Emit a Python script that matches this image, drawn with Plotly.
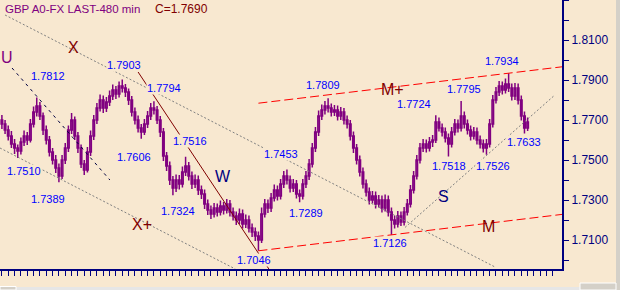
import plotly.graph_objects as go

# ---------------- data (GBP 480-min bars) ----------------
opens = [1.7700, 1.7680, 1.7650, 1.7620, 1.7580, 1.7560, 1.7545, 1.7590, 1.7620, 1.7600,
         1.7680, 1.7740, 1.7770, 1.7720, 1.7650, 1.7600, 1.7540, 1.7500, 1.7460, 1.7420,
         1.7500, 1.7560, 1.7650, 1.7700, 1.7620, 1.7560, 1.7480, 1.7450, 1.7540, 1.7620,
         1.7700, 1.7760, 1.7800, 1.7760, 1.7790, 1.7820, 1.7850, 1.7830, 1.7870, 1.7860,
         1.7840, 1.7800, 1.7740, 1.7700, 1.7660, 1.7640, 1.7680, 1.7720, 1.7760, 1.7750,
         1.7700, 1.7640, 1.7520, 1.7470, 1.7400, 1.7360, 1.7400, 1.7380, 1.7440, 1.7470,
         1.7420, 1.7380, 1.7400, 1.7350, 1.7330, 1.7280, 1.7250, 1.7230, 1.7260, 1.7240,
         1.7270, 1.7250, 1.7280, 1.7240, 1.7220, 1.7200, 1.7230, 1.7180, 1.7200, 1.7160,
         1.7140, 1.7120, 1.7100, 1.7230, 1.7280, 1.7260, 1.7310, 1.7350, 1.7320, 1.7380,
         1.7420, 1.7400, 1.7360, 1.7380, 1.7330, 1.7320, 1.7380, 1.7420, 1.7480, 1.7560,
         1.7640, 1.7720, 1.7750, 1.7770, 1.7760, 1.7740, 1.7750, 1.7720, 1.7740, 1.7700,
         1.7680, 1.7620, 1.7560, 1.7500, 1.7440, 1.7380, 1.7340, 1.7300, 1.7320, 1.7280,
         1.7300, 1.7260, 1.7300, 1.7240, 1.7200, 1.7180, 1.7220, 1.7190, 1.7240, 1.7280,
         1.7350, 1.7420, 1.7500, 1.7560, 1.7580, 1.7560, 1.7590, 1.7600, 1.7690, 1.7660,
         1.7640, 1.7610, 1.7580, 1.7640, 1.7680, 1.7660, 1.7720, 1.7680, 1.7650, 1.7620,
         1.7640, 1.7600, 1.7580, 1.7560, 1.7580, 1.7680, 1.7800, 1.7840, 1.7870, 1.7850,
         1.7880, 1.7860, 1.7820, 1.7860, 1.7800, 1.7720, 1.7660]
highs = [1.7725, 1.7700, 1.7672, 1.7645, 1.7605, 1.7578, 1.7612, 1.7648, 1.7640, 1.7705,
         1.7768, 1.7812, 1.7790, 1.7738, 1.7672, 1.7620, 1.7560, 1.7525, 1.7482, 1.7525,
         1.7585, 1.7672, 1.7735, 1.7718, 1.7640, 1.7578, 1.7500, 1.7565, 1.7648, 1.7725,
         1.7785, 1.7828, 1.7822, 1.7815, 1.7848, 1.7878, 1.7870, 1.7892, 1.7903, 1.7880,
         1.7858, 1.7820, 1.7762, 1.7722, 1.7680, 1.7705, 1.7745, 1.7785, 1.7794, 1.7770,
         1.7720, 1.7660, 1.7540, 1.7492, 1.7420, 1.7428, 1.7425, 1.7468, 1.7516, 1.7490,
         1.7442, 1.7428, 1.7422, 1.7372, 1.7352, 1.7302, 1.7272, 1.7285, 1.7282, 1.7298,
         1.7290, 1.7305, 1.7300, 1.7262, 1.7242, 1.7258, 1.7252, 1.7228, 1.7222, 1.7182,
         1.7162, 1.7142, 1.7262, 1.7305, 1.7302, 1.7335, 1.7378, 1.7372, 1.7405, 1.7445,
         1.7453, 1.7422, 1.7405, 1.7400, 1.7352, 1.7405, 1.7445, 1.7505, 1.7585, 1.7665,
         1.7748, 1.7778, 1.7795, 1.7809, 1.7782, 1.7775, 1.7772, 1.7765, 1.7760, 1.7722,
         1.7700, 1.7642, 1.7580, 1.7522, 1.7462, 1.7402, 1.7362, 1.7345, 1.7342, 1.7325,
         1.7322, 1.7328, 1.7322, 1.7262, 1.7222, 1.7245, 1.7242, 1.7265, 1.7305, 1.7375,
         1.7445, 1.7525, 1.7585, 1.7605, 1.7602, 1.7615, 1.7625, 1.7724, 1.7712, 1.7682,
         1.7662, 1.7632, 1.7665, 1.7705, 1.7702, 1.7795, 1.7742, 1.7702, 1.7672, 1.7665,
         1.7662, 1.7622, 1.7602, 1.7605, 1.7705, 1.7825, 1.7865, 1.7895, 1.7892, 1.7908,
         1.7934, 1.7882, 1.7885, 1.7882, 1.7822, 1.7742, 1.7712]
lows = [1.7655, 1.7630, 1.7598, 1.7560, 1.7530, 1.7510, 1.7528, 1.7570, 1.7575, 1.7588,
        1.7662, 1.7718, 1.7700, 1.7625, 1.7578, 1.7518, 1.7478, 1.7435, 1.7389, 1.7405,
        1.7480, 1.7540, 1.7630, 1.7600, 1.7535, 1.7460, 1.7425, 1.7438, 1.7520, 1.7600,
        1.7680, 1.7742, 1.7735, 1.7740, 1.7770, 1.7800, 1.7805, 1.7812, 1.7838, 1.7815,
        1.7775, 1.7718, 1.7678, 1.7638, 1.7606, 1.7625, 1.7660, 1.7700, 1.7728, 1.7680,
        1.7615, 1.7495, 1.7445, 1.7375, 1.7324, 1.7340, 1.7352, 1.7362, 1.7420, 1.7398,
        1.7355, 1.7360, 1.7325, 1.7305, 1.7255, 1.7225, 1.7205, 1.7212, 1.7218, 1.7222,
        1.7228, 1.7232, 1.7218, 1.7198, 1.7175, 1.7180, 1.7158, 1.7160, 1.7138, 1.7115,
        1.7095, 1.7046, 1.7085, 1.7212, 1.7235, 1.7240, 1.7292, 1.7298, 1.7302, 1.7360,
        1.7378, 1.7338, 1.7340, 1.7308, 1.7289, 1.7302, 1.7360, 1.7400, 1.7462, 1.7540,
        1.7620, 1.7700, 1.7728, 1.7738, 1.7718, 1.7720, 1.7698, 1.7700, 1.7678, 1.7658,
        1.7598, 1.7535, 1.7478, 1.7418, 1.7358, 1.7318, 1.7278, 1.7282, 1.7258, 1.7262,
        1.7238, 1.7242, 1.7218, 1.7126, 1.7158, 1.7162, 1.7170, 1.7172, 1.7222, 1.7262,
        1.7332, 1.7402, 1.7482, 1.7540, 1.7538, 1.7542, 1.7565, 1.7585, 1.7642, 1.7618,
        1.7588, 1.7518, 1.7562, 1.7622, 1.7638, 1.7642, 1.7658, 1.7628, 1.7598, 1.7602,
        1.7578, 1.7558, 1.7538, 1.7526, 1.7562, 1.7662, 1.7782, 1.7820, 1.7828, 1.7832,
        1.7840, 1.7798, 1.7800, 1.7778, 1.7698, 1.7633, 1.7645]
closes = [1.7680, 1.7650, 1.7620, 1.7580, 1.7560, 1.7545, 1.7590, 1.7620, 1.7600, 1.7680,
          1.7740, 1.7770, 1.7720, 1.7650, 1.7600, 1.7540, 1.7500, 1.7460, 1.7420, 1.7500,
          1.7560, 1.7650, 1.7700, 1.7620, 1.7560, 1.7480, 1.7450, 1.7540, 1.7620, 1.7700,
          1.7760, 1.7800, 1.7760, 1.7790, 1.7820, 1.7850, 1.7830, 1.7870, 1.7860, 1.7840,
          1.7800, 1.7740, 1.7700, 1.7660, 1.7640, 1.7680, 1.7720, 1.7760, 1.7750, 1.7700,
          1.7640, 1.7520, 1.7470, 1.7400, 1.7360, 1.7400, 1.7380, 1.7440, 1.7470, 1.7420,
          1.7380, 1.7400, 1.7350, 1.7330, 1.7280, 1.7250, 1.7230, 1.7260, 1.7240, 1.7270,
          1.7250, 1.7280, 1.7240, 1.7220, 1.7200, 1.7230, 1.7180, 1.7200, 1.7160, 1.7140,
          1.7120, 1.7100, 1.7230, 1.7280, 1.7260, 1.7310, 1.7350, 1.7320, 1.7380, 1.7420,
          1.7400, 1.7360, 1.7380, 1.7330, 1.7320, 1.7380, 1.7420, 1.7480, 1.7560, 1.7640,
          1.7720, 1.7750, 1.7770, 1.7760, 1.7740, 1.7750, 1.7720, 1.7740, 1.7700, 1.7680,
          1.7620, 1.7560, 1.7500, 1.7440, 1.7380, 1.7340, 1.7300, 1.7320, 1.7280, 1.7300,
          1.7260, 1.7300, 1.7240, 1.7200, 1.7180, 1.7220, 1.7190, 1.7240, 1.7280, 1.7350,
          1.7420, 1.7500, 1.7560, 1.7580, 1.7560, 1.7590, 1.7600, 1.7690, 1.7660, 1.7640,
          1.7610, 1.7580, 1.7640, 1.7680, 1.7660, 1.7720, 1.7680, 1.7650, 1.7620, 1.7640,
          1.7600, 1.7580, 1.7560, 1.7580, 1.7680, 1.7800, 1.7840, 1.7870, 1.7850, 1.7880,
          1.7860, 1.7820, 1.7860, 1.7800, 1.7720, 1.7660, 1.7690]
bars = list(range(len(closes)))

# swing points labelled on the chart (bar index, price)
swing_idx = [11, 38, 48, 5, 44, 58, 18, 54, 90, 103, 94, 81, 123, 160, 145, 137, 141, 153, 165]
swing_val = [1.7812, 1.7903, 1.7794, 1.7510, 1.7606, 1.7516, 1.7389, 1.7324, 1.7453, 1.7809,
             1.7289, 1.7046, 1.7126, 1.7934, 1.7795, 1.7724, 1.7518, 1.7526, 1.7633]

# y-axis ticks
y_ticks = [1.70, 1.71, 1.72, 1.73, 1.74, 1.75, 1.76, 1.77, 1.78, 1.79, 1.80, 1.81, 1.82, 1.83]
y_labels = ["", "1.7100", "", "1.7300", "", "1.7500", "", "1.7700", "", "1.7900", "", "1.8100", "", ""]

# ---------------- styling ----------------
BG = "#f8e8d0"
PURPLE = "#800080"
NAVY = "#000080"
DRED = "#800000"
BLUE = "#0000ff"
FONT = "Liberation Sans, Arial, sans-serif"

label_dx = [11, 2, 10, 6, -7, 4, -11, 5, -6, -5, 6, -4, -1, -7, 3, -22, 1, 7, 0]
label_dy = [22, 14, 13, -13, -18, 16, -17, -16, 15, 13, -11, -9, -8, 12, 12, 11, -10, -11, -9]

X_MIN, X_MAX = -0.6, 176.85
Y_MIN, Y_MAX = 1.6955, 1.83

fig = go.Figure()

fig.add_trace(go.Candlestick(
    x=bars, open=opens, high=highs, low=lows, close=closes,
    increasing=dict(line=dict(color=PURPLE, width=1.5), fillcolor=BG),
    decreasing=dict(line=dict(color=PURPLE, width=1.5), fillcolor=PURPLE),
    whiskerwidth=0, hoverinfo="skip", showlegend=False,
))

# trend lines (bar index, price) pairs
trend_lines = [
    # X channel (gray dotted)
    dict(x=[1.0, 155.7], y=[1.8225, 1.6965], color="#808080", dash="2px,2px", width=1),
    dict(x=[-0.6, 73.7], y=[1.7560, 1.6955], color="#808080", dash="2px,2px", width=1),
    # U line
    dict(x=[3.2, 34.1], y=[1.7960, 1.7400], color="#000040", dash="3px,4px", width=1),
    # W line
    dict(x=[43.0, 84.3], y=[1.7940, 1.6955], color=DRED, dash="solid", width=1),
    # M channel (red dashed)
    dict(x=[81, X_MAX], y=[1.7046, 1.7228], color="#ff0000", dash="9px,4px", width=1),
    dict(x=[81, X_MAX], y=[1.7784, 1.7966], color="#ff0000", dash="9px,4px", width=1),
    # S line
    dict(x=[127.3, 174.6], y=[1.7163, 1.7825], color="#808080", dash="2px,2px", width=1),
]
for ln in trend_lines:
    fig.add_trace(go.Scatter(x=ln["x"], y=ln["y"], mode="lines",
                             line=dict(color=ln["color"], dash=ln["dash"], width=ln["width"]),
                             hoverinfo="skip", showlegend=False))

annotations = []
for i, v, dx, dy in zip(swing_idx, swing_val, label_dx, label_dy):
    annotations.append(dict(x=i, y=v, xref="x", yref="y", text=f"{v:.4f}", showarrow=False,
                            xshift=dx, yshift=dy, bgcolor=BG, borderpad=0,
                            font=dict(family=FONT, size=11, color=BLUE)))

letters = [("U", 1.6, 1.8015, PURPLE), ("X", 22.5, 1.8065, DRED), ("X+", 44.2, 1.7180, DRED),
           ("W", 69.8, 1.7420, NAVY), ("M+", 123.2, 1.7855, DRED), ("S", 139.3, 1.7320, NAVY),
           ("M", 153.5, 1.7170, DRED)]
for t, x, y, c in letters:
    annotations.append(dict(x=x, y=y, xref="x", yref="y", text=t, showarrow=False,
                            font=dict(family=FONT, size=16, color=c)))

annotations.append(dict(x=3 / 562, y=1 - 8.5 / 269, xref="paper", yref="paper",
                        text="GBP A0-FX LAST-480 min", showarrow=False, xanchor="left",
                        yanchor="middle", font=dict(family=FONT, size=11.5, color=PURPLE)))
annotations.append(dict(x=153 / 562, y=1 - 8.5 / 269, xref="paper", yref="paper",
                        text="C=1.7690", showarrow=False, xanchor="left",
                        yanchor="middle", font=dict(family=FONT, size=12, color=DRED)))

# window chrome (scroll bar / border)
PX = 1 / 562
PY = 1 / 269
shapes = [
    dict(type="rect", xref="paper", yref="paper", x0=616 * PX, x1=620 * PX, y0=-21 * PY, y1=1,
         fillcolor="#d4d0c8", line=dict(width=0), layer="above"),
    dict(type="rect", xref="paper", yref="paper", x0=0, x1=616 * PX, y0=-21 * PY, y1=-18 * PY,
         fillcolor="#e6e6e6", line=dict(width=0), layer="above"),
    dict(type="rect", xref="paper", yref="paper", x0=0, x1=16 * PX, y0=-21 * PY, y1=-17.5 * PY,
         fillcolor="#d4d0c8", line=dict(color="#ffffff", width=1), layer="above"),
    dict(type="rect", xref="paper", yref="paper", x0=580 * PX, x1=616 * PX, y0=-21 * PY, y1=-14 * PY,
         fillcolor="#d4d0c8", line=dict(color="#ffffff", width=1), layer="above"),
]

fig.update_layout(
    width=620, height=290,
    margin=dict(l=0, r=58, t=0, b=21, pad=0),
    paper_bgcolor=BG, plot_bgcolor=BG,
    showlegend=False,
    annotations=annotations,
    shapes=shapes,
    xaxis=dict(range=[X_MIN, X_MAX], rangeslider=dict(visible=False), showgrid=False,
               zeroline=False, showline=True, linecolor=NAVY, linewidth=2,
               tickmode="array", tickvals=list(range(0, 176, 2)), ticks="outside",
               ticklen=5, tickwidth=1, tickcolor=NAVY, showticklabels=False, fixedrange=True),
    yaxis=dict(range=[Y_MIN, Y_MAX], side="right", showgrid=False, zeroline=False,
               showline=True, linecolor=NAVY, linewidth=2,
               tickmode="array", tickvals=y_ticks, ticktext=y_labels, ticks="outside",
               ticklen=5, tickwidth=1, tickcolor=NAVY,
               tickfont=dict(family=FONT, size=12, color=NAVY), fixedrange=True),
)

fig.write_html("out.html")
